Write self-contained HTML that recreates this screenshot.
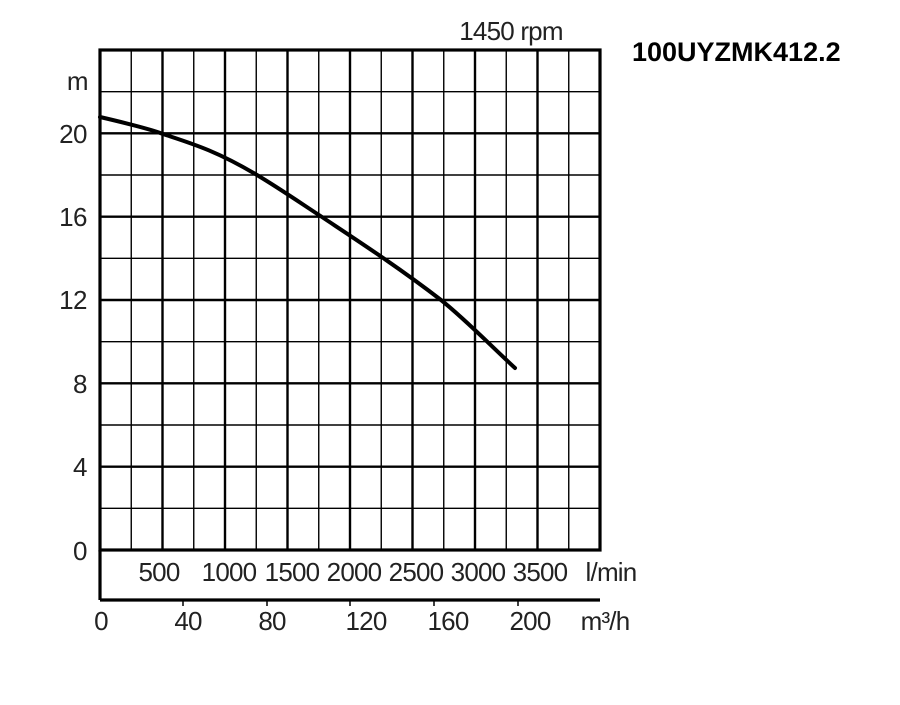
<!DOCTYPE html>
<html><head><meta charset="utf-8"><style>
body{margin:0;background:#fff;}
svg text{font-family:"Liberation Sans",Arial,sans-serif;fill:#222;}
</style></head><body>
<svg width="900" height="700" viewBox="0 0 900 700" xmlns="http://www.w3.org/2000/svg">
<g stroke="#000" fill="none">
<g stroke-width="1.4">
<line x1="131.25" y1="50" x2="131.25" y2="550"/><line x1="193.75" y1="50" x2="193.75" y2="550"/>
<line x1="256.25" y1="50" x2="256.25" y2="550"/><line x1="318.75" y1="50" x2="318.75" y2="550"/>
<line x1="381.25" y1="50" x2="381.25" y2="550"/><line x1="443.75" y1="50" x2="443.75" y2="550"/>
<line x1="506.25" y1="50" x2="506.25" y2="550"/><line x1="568.75" y1="50" x2="568.75" y2="550"/>
<line x1="100" y1="91.7" x2="600" y2="91.7"/><line x1="100" y1="175" x2="600" y2="175"/>
<line x1="100" y1="258.3" x2="600" y2="258.3"/><line x1="100" y1="341.7" x2="600" y2="341.7"/>
<line x1="100" y1="425" x2="600" y2="425"/><line x1="100" y1="508.3" x2="600" y2="508.3"/>
</g>
<g stroke-width="2.4">
<line x1="162.5" y1="50" x2="162.5" y2="550"/><line x1="225" y1="50" x2="225" y2="550"/>
<line x1="287.5" y1="50" x2="287.5" y2="550"/><line x1="350" y1="50" x2="350" y2="550"/>
<line x1="412.5" y1="50" x2="412.5" y2="550"/><line x1="475" y1="50" x2="475" y2="550"/>
<line x1="537.5" y1="50" x2="537.5" y2="550"/>
<line x1="100" y1="133.3" x2="600" y2="133.3"/><line x1="100" y1="216.7" x2="600" y2="216.7"/>
<line x1="100" y1="300" x2="600" y2="300"/><line x1="100" y1="383.3" x2="600" y2="383.3"/>
<line x1="100" y1="466.7" x2="600" y2="466.7"/>
</g>
<rect x="100" y="50" width="500" height="500" stroke-width="3.2"/>
<line x1="100" y1="550" x2="100" y2="600" stroke-width="3.2"/>
<line x1="100" y1="600" x2="600" y2="600" stroke-width="3.2"/>
<g stroke-width="1.5">
<line x1="183" y1="600" x2="183" y2="606"/><line x1="267" y1="600" x2="267" y2="606"/>
<line x1="350" y1="600" x2="350" y2="606"/><line x1="434" y1="600" x2="434" y2="606"/>
<line x1="518" y1="600" x2="518" y2="606"/>
</g>
<path d="M100,117 C130,124 150,129 163,134 C190,143 215,150 257,175 C282,190 302,204 322,217 C352,237 397,266 441,300 C466,320 490,345 515,368" stroke-width="4" stroke-linecap="round"/>
</g>
<g font-size="26" text-anchor="end" letter-spacing="-0.5">
<text x="88" y="90">m</text>
<text x="87" y="143">20</text><text x="87" y="226">16</text><text x="87" y="309">12</text>
<text x="87" y="393">8</text><text x="87" y="476">4</text><text x="87" y="560">0</text>
</g>
<g font-size="26" text-anchor="middle" letter-spacing="-0.8">
<text x="511" y="40">1450 rpm</text>
<text x="159" y="581">500</text><text x="229" y="581">1000</text><text x="292" y="581">1500</text>
<text x="354" y="581">2000</text><text x="416" y="581">2500</text><text x="478" y="581">3000</text>
<text x="540" y="581">3500</text><text x="611" y="581">l/min</text>
<text x="101" y="630">0</text><text x="188" y="630">40</text><text x="272" y="630">80</text>
<text x="366" y="630">120</text><text x="448" y="630">160</text><text x="530" y="630">200</text>
<text x="605" y="630">m³/h</text>
</g>
<text x="632" y="61" font-size="27" font-weight="bold" style="fill:#000">100UYZMK412.2</text>
</svg>
</body></html>
